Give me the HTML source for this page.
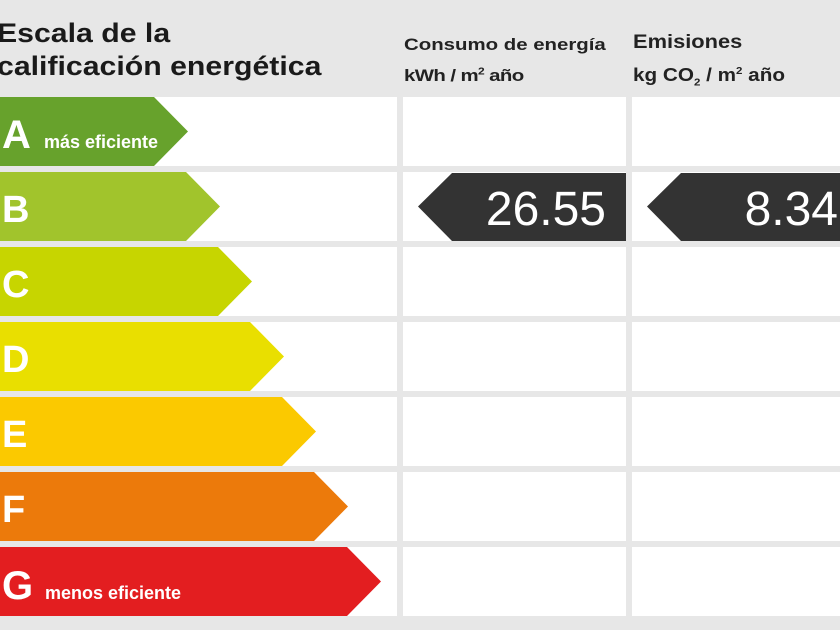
<!DOCTYPE html>
<html><head><meta charset="utf-8"><style>
body{margin:0;width:840px;height:630px;background:#e7e7e7;overflow:hidden;font-family:"Liberation Sans",sans-serif;position:relative}
.t{position:absolute;color:#111;transform-origin:0 0;white-space:nowrap}
</style></head><body>
<div class="t" style="left:-3px;top:17px;font-size:27px;line-height:33px;font-weight:bold;color:#1a1a1a;transform:scaleX(1.12)">Escala de la<br>calificación energética</div>
<div class="t" style="left:404px;top:31px;font-size:17px;line-height:27px;font-weight:bold;color:#222;transform:scaleX(1.2)">Consumo de energía<br><span style="letter-spacing:-0.5px">kWh / m<sup style="font-size:10px">2</sup> año</span></div>
<div class="t" style="left:633px;top:28px;font-size:19px;line-height:29px;font-weight:bold;color:#222;transform:scaleX(1.15)">Emisiones<br><span style="font-size:18px">kg CO<sub style="font-size:10px">2</sub> / m<sup style="font-size:10px">2</sup> año</span></div>
<svg width="840" height="630" style="position:absolute;left:0;top:0">
<g fill="#fff">
<rect x="0" y="97" width="397" height="69"/><rect x="403" y="97" width="223" height="69"/><rect x="632" y="97" width="208" height="69"/>
<rect x="0" y="172" width="397" height="69"/><rect x="403" y="172" width="223" height="69"/><rect x="632" y="172" width="208" height="69"/>
<rect x="0" y="247" width="397" height="69"/><rect x="403" y="247" width="223" height="69"/><rect x="632" y="247" width="208" height="69"/>
<rect x="0" y="322" width="397" height="69"/><rect x="403" y="322" width="223" height="69"/><rect x="632" y="322" width="208" height="69"/>
<rect x="0" y="397" width="397" height="69"/><rect x="403" y="397" width="223" height="69"/><rect x="632" y="397" width="208" height="69"/>
<rect x="0" y="472" width="397" height="69"/><rect x="403" y="472" width="223" height="69"/><rect x="632" y="472" width="208" height="69"/>
<rect x="0" y="547" width="397" height="69"/><rect x="403" y="547" width="223" height="69"/><rect x="632" y="547" width="208" height="69"/>
</g>
<polygon points="0,97 154,97 188,131.5 154,166 0,166" fill="#67a22c"/>
<polygon points="0,172 186,172 220,206.5 186,241 0,241" fill="#a1c42c"/>
<polygon points="0,247 218,247 252,281.5 218,316 0,316" fill="#c7d500"/>
<polygon points="0,322 250,322 284,356.5 250,391 0,391" fill="#e9df00"/>
<polygon points="0,397 282,397 316,431.5 282,466 0,466" fill="#fbc900"/>
<polygon points="0,472 314,472 348,506.5 314,541 0,541" fill="#ec7a0b"/>
<polygon points="0,547 347,547 381,581.5 347,616 0,616" fill="#e31e20"/>
<polygon points="418,206.5 452,173 626,173 626,241 452,241" fill="#333"/>
<polygon points="647,206.5 681,173 840,173 840,241 681,241" fill="#333"/>
<g fill="#fff" font-family="Liberation Sans,sans-serif" font-weight="bold">
<text x="2" y="148" font-size="40">A</text><text x="44" y="148" font-size="18">más eficiente</text>
<text x="2" y="222" font-size="38">B</text>
<text x="2" y="297" font-size="38">C</text>
<text x="2" y="372" font-size="38">D</text>
<text x="2" y="447" font-size="38">E</text>
<text x="2" y="522" font-size="38">F</text>
<text x="2" y="599" font-size="40">G</text><text x="45" y="599" font-size="18">menos eficiente</text>
</g>
<g fill="#fff" font-family="Liberation Sans,sans-serif" font-size="48">
<text x="606" y="225" text-anchor="end">26.55</text>
<text x="838" y="225" text-anchor="end">8.34</text>
</g>
</svg>
</body></html>
